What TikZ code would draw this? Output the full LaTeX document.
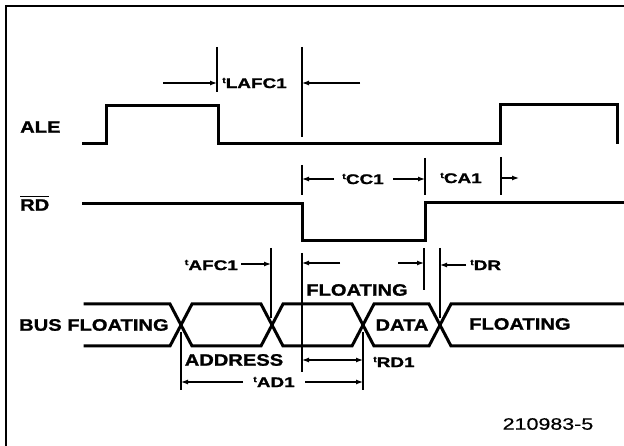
\documentclass[tikz,border=0pt]{standalone}
\usepackage{fontspec}
\usetikzlibrary{arrows.meta}
\newfontfamily\lf{Liberation Sans}[FakeStretch=1.22,FakeBold=1.2]
\newfontfamily\lft{Liberation Sans}[FakeStretch=1.35,FakeBold=1.2]
\newfontfamily\lfn{Liberation Sans}[FakeStretch=1.3,FakeBold=0.5]
\newcommand\biglab{\lf\bfseries\fontsize{16.5}{18}\selectfont}
\newcommand\tlab[1]{{\lft\bfseries\raisebox{5pt}{\fontsize{8}{8}\selectfont t}\fontsize{14}{16}\selectfont #1}}
\tikzset{
  wave/.style={line width=3pt, line join=miter, line cap=rect},
  frameline/.style={line width=2.6pt},
  tick/.style={line width=1.8pt},
  dim/.style={line width=1.2pt, -{Latex[length=7pt,width=5pt]}},
  dimb/.style={line width=1.2pt, {Latex[length=7pt,width=5pt]}-{Latex[length=7pt,width=5pt]}},
  lab/.style={inner sep=0pt, font=\biglab},
  tl/.style={inner sep=0pt}
}
\begin{document}
\begin{tikzpicture}[x=1pt,y=-1pt]
\useasboundingbox (0,0) rectangle (624,446);
\fill[white] (0,0) rectangle (624,446);
% frame
\draw[frameline] (6,446) -- (6,6) -- (624,6);

% ---------- ALE ----------
\node[lab, anchor=west] (ale) at (20,127) {ALE};
\draw[wave] (83,144) -- (106,144) -- (106,106) -- (218,106) -- (218,144)
  -- (500,144) -- (500,105) -- (617,105) -- (617,143);

% tLAFC1
\coordinate (la1) at (217,47); \coordinate (la1b) at (217,92);
\coordinate (la2) at (302,47); \coordinate (la2b) at (302,137);
\draw[tick] (la1) -- (la1b);
\draw[tick] (la2) -- (la2b);
\coordinate (lafcL) at (163,83); \coordinate (lafcR) at (360,83);
\draw[dim] (lafcL) -- (217,83);
\draw[dim] (lafcR) -- (302,83);
\node[tl, anchor=west] (tlafc) at (222,83) {\tlab{LAFC1}};

% ---------- RD ----------
\node[lab, anchor=west] (rd) at (20,205) {RD};
\draw[line width=1.2pt] ([yshift=3pt]rd.north west) -- ([yshift=3pt]rd.north east);
\draw[wave] (83,204) -- (302,204) -- (302,241) -- (425,241) -- (425,203) -- (624,203);

% tCC1
\draw[tick] (302,165) -- (302,195);
\draw[tick] (425,158) -- (425,195);
\draw[dim] (334,179) -- (302,179);
\draw[dim] (393,179) -- (425,179);
\node[tl] (tcc) at (363,179) {\tlab{CC1}};
% tCA1
\draw[tick] (501,157) -- (501,195);
\node[tl] (tca) at (461,178) {\tlab{CA1}};
\draw[dim] (501,178) -- (519,178);

% ---------- BUS ----------
\node[lab, anchor=west] (bus) at (19,325) {BUS FLOATING};
\draw[wave] (85,304) -- (170,304) -- (192,346) -- (261,346) -- (283,304) -- (352,304)
  -- (374,346) -- (429,346) -- (451,304) -- (624,304);
\draw[wave] (85,346) -- (170,346) -- (192,304) -- (261,304) -- (283,346) -- (352,346)
  -- (374,304) -- (429,304) -- (451,346) -- (624,346);
\node[lab] (addr) at (234,360) {ADDRESS};
\node[lab] (data) at (402,325) {DATA};
\node[lab, anchor=west] (flr) at (469,324) {FLOATING};
\node[lab] (flt) at (357,290) {FLOATING};

% tAFC1
\draw[tick] (271,248) -- (271,318);
\draw[dim] (241,264) -- (271,264);
\node[tl, anchor=east] (tafc) at (238,265) {\tlab{AFC1}};

% x=302 marker
\draw[tick] (302,253) -- (302,372);
% FLOATING dimension
\draw[tick] (424,248) -- (424,290);
\draw[dim] (340,263) -- (302,263);
\draw[dim] (398,263) -- (424,263);

% tDR
\draw[tick] (440,248) -- (440,318);
\draw[dim] (466,265) -- (440,265);
\node[tl, anchor=west] (tdr) at (470,265) {\tlab{DR}};

% tRD1
\draw[tick] (363,332) -- (363,390);
\draw[dimb] (302,360) -- (363,360);
\node[tl, anchor=west] (trd) at (373,362) {\tlab{RD1}};

% tAD1
\draw[tick] (181,332) -- (181,390);
\node[tl] (tad) at (274,382) {\tlab{AD1}};
\draw[dim] (243,382) -- (181,382);
\draw[dim] (305,382) -- (363,382);

% figure number
\node[inner sep=0pt, font={\lfn\fontsize{16.5}{18}\selectfont}] (fig) at (548,424) {210983-5};
\end{tikzpicture}
\end{document}
